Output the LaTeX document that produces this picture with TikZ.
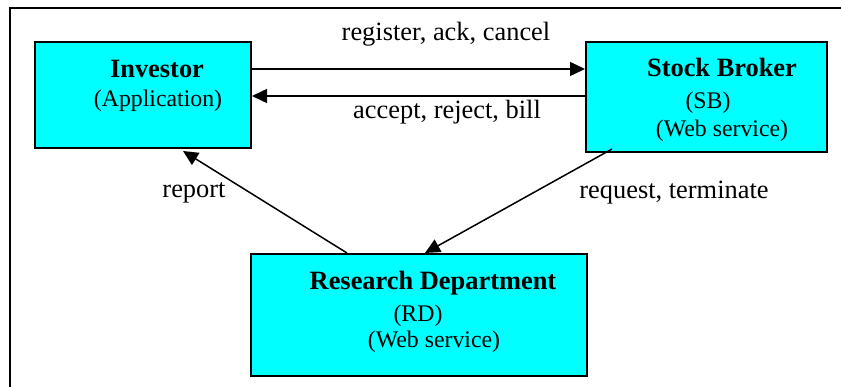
\documentclass[tikz,border=0pt]{standalone}
\usepackage{fontspec}
\setmainfont{Liberation Serif}
\usetikzlibrary{arrows.meta}
\definecolor{boxcyan}{HTML}{00FFFF}
\begin{document}
\begin{tikzpicture}[x=1pt,y=-1pt,
  box/.style={draw=black,line width=2pt,fill=boxcyan,rectangle,inner sep=0pt},
  title/.style={font=\fontsize{26.4}{30}\selectfont\bfseries,anchor=base,inner sep=0pt},
  sub/.style={font=\fontsize{23.8}{28}\selectfont,anchor=base,inner sep=0pt},
  lbl/.style={font=\fontsize{26.4}{30}\selectfont,anchor=base,inner sep=0pt},
  arr/.style={line width=1.5pt,-{Triangle[length=15pt,width=14pt]}}]
\clip (0,0) rectangle (841,387);
\fill[white] (0,0) rectangle (841,387);
\draw[line width=2pt] (10,8) rectangle (880,420);

\node[box,minimum width=216pt,minimum height=106pt] (inv) at (143,95) {};
\node[box,minimum width=241pt,minimum height=110pt] (sb) at (706.5,97) {};
\node[box,minimum width=336pt,minimum height=122pt] (rd) at (419,315) {};

\node[title] (invt) at (157,78) {Investor};
\node[sub] (invs) at (158,107) {(Application)};

\node[title] (sbt) at (722,77) {Stock Broker};
\node[sub] (sbs) at (708,109) {(SB)};
\node[sub] (sbw) at (722,137) {(Web service)};

\node[title] (rdt) at (433,290) {Research Department};
\node[sub] (rds) at (418,322) {(RD)};
\node[sub] (rdw) at (434,348) {(Web service)};

\draw[arr] (inv.east |- 0,69) -- (sb.west |- 0,69);
\draw[arr] (sb.west |- 0,96) -- (inv.east |- 0,96);
\draw[arr] (rd.north -| 347,0) -- ([yshift=-2pt]inv.south -| 183,0);
\draw[arr] ([yshift=4pt]sb.south -| 612,0) -- (rd.north -| 425,0);

\node[lbl] (l1) at (446,41) {register, ack, cancel};
\node[lbl] (l2) at (447,119) {accept, reject, bill};
\node[lbl] (l3) at (194,198) {report};
\node[lbl] (l4) at (674,199) {request, terminate};
\end{tikzpicture}
\end{document}
